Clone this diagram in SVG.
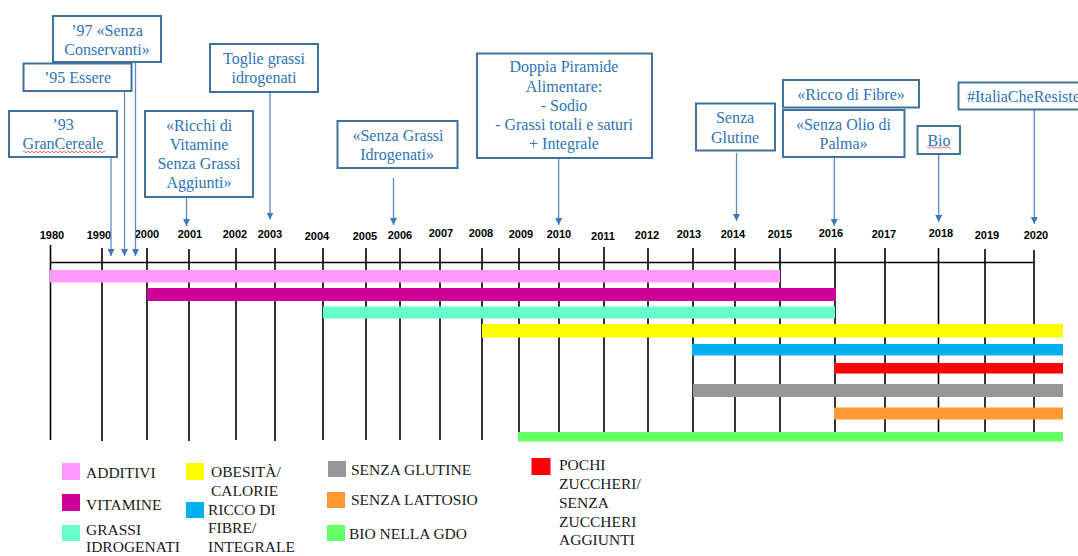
<svg xmlns="http://www.w3.org/2000/svg" width="1078" height="556" viewBox="0 0 1078 556">
<style>
.box{fill:#fff;stroke:#41719C;stroke-width:2}
.ct{font-family:"Liberation Serif",serif;font-size:16px;fill:#2E74B5;text-anchor:middle}
.yr{font-family:"Liberation Sans",sans-serif;font-size:11px;font-weight:bold;fill:#000;text-anchor:middle}
.grid{stroke:#000;stroke-width:1.6}
.conn{stroke:#5B8BC4;stroke-width:1.3;fill:none}
.lg{font-family:"Liberation Serif",serif;font-size:15.5px;fill:#1a1a1a}
.wavy{stroke:#E04848;stroke-width:0.8;fill:none}
</style>
<defs>
<marker id="ah" markerUnits="userSpaceOnUse" markerWidth="7" markerHeight="7" refX="7" refY="3.5" orient="auto">
<path d="M0,0 L7,3.5 L0,7 z" fill="#3F78B8"/>
</marker>
</defs>
<rect width="1078" height="556" fill="#fff"/>

<g id="timeline-grid">
<line class="grid" x1="50.5" y1="245" x2="50.5" y2="440"/>
<line class="grid" x1="102" y1="248" x2="102" y2="441"/>
<line class="grid" x1="147" y1="248" x2="147" y2="440"/>
<line class="grid" x1="189" y1="249" x2="189" y2="441"/>
<line class="grid" x1="236" y1="248" x2="236" y2="440"/>
<line class="grid" x1="275" y1="248" x2="275" y2="441"/>
<line class="grid" x1="323" y1="248" x2="323" y2="440"/>
<line class="grid" x1="366" y1="248" x2="366" y2="440"/>
<line class="grid" x1="400" y1="248" x2="400" y2="440"/>
<line class="grid" x1="440" y1="248" x2="440" y2="440"/>
<line class="grid" x1="482" y1="248" x2="482" y2="440"/>
<line class="grid" x1="519" y1="248" x2="519" y2="440"/>
<line class="grid" x1="559" y1="248" x2="559" y2="440"/>
<line class="grid" x1="604" y1="247" x2="604" y2="440"/>
<line class="grid" x1="648" y1="248" x2="648" y2="440"/>
<line class="grid" x1="693" y1="248" x2="693" y2="440"/>
<line class="grid" x1="735" y1="248" x2="735" y2="440"/>
<line class="grid" x1="780" y1="248" x2="780" y2="440"/>
<line class="grid" x1="835" y1="248" x2="835" y2="440"/>
<line class="grid" x1="885" y1="248" x2="885" y2="440"/>
<line class="grid" x1="938.5" y1="248" x2="938.5" y2="440"/>
<line class="grid" x1="985" y1="249" x2="985" y2="440"/>
<line class="grid" x1="1034" y1="250" x2="1034" y2="440"/>
<line class="grid" x1="50" y1="262.5" x2="1034.5" y2="262.5"/>
</g>

<g id="year-labels">
<text class="yr" x="52" y="238.5">1980</text>
<text class="yr" x="99" y="238.5">1990</text>
<text class="yr" x="147" y="238">2000</text>
<text class="yr" x="190" y="238">2001</text>
<text class="yr" x="235" y="238">2002</text>
<text class="yr" x="270" y="238">2003</text>
<text class="yr" x="317" y="239.5">2004</text>
<text class="yr" x="365" y="239.5">2005</text>
<text class="yr" x="400" y="238.5">2006</text>
<text class="yr" x="441" y="237">2007</text>
<text class="yr" x="481" y="237">2008</text>
<text class="yr" x="521" y="238">2009</text>
<text class="yr" x="559" y="238">2010</text>
<text class="yr" x="603" y="240">2011</text>
<text class="yr" x="647" y="239">2012</text>
<text class="yr" x="689" y="238">2013</text>
<text class="yr" x="733" y="238">2014</text>
<text class="yr" x="780" y="238">2015</text>
<text class="yr" x="831" y="237">2016</text>
<text class="yr" x="884" y="238">2017</text>
<text class="yr" x="941" y="237">2018</text>
<text class="yr" x="987" y="238.5">2019</text>
<text class="yr" x="1036" y="239">2020</text>
</g>

<g id="bars">
<rect id="bar-additivi" x="50" y="270" width="730" height="12.5" fill="#FF99FF"/>
<rect id="bar-vitamine" x="147" y="288" width="689" height="13" fill="#CC0099"/>
<rect id="bar-grassi" x="323" y="306.5" width="512" height="12" fill="#66FFCC"/>
<rect id="bar-obesita" x="482" y="324" width="581" height="13.5" fill="#FFFF00"/>
<rect id="bar-fibre" x="692" y="344" width="371" height="11.5" fill="#00B0F0"/>
<rect id="bar-zuccheri" x="834" y="363" width="229" height="10.5" fill="#FF0000"/>
<rect id="bar-glutine" x="693" y="384" width="370" height="13" fill="#969696"/>
<rect id="bar-lattosio" x="834" y="407.5" width="229" height="12" fill="#FF9933"/>
<rect id="bar-bio" x="518" y="432" width="545" height="9.5" fill="#66FF66"/>
</g>

<g id="connectors">
<line class="conn" x1="111" y1="157" x2="111" y2="256" marker-end="url(#ah)"/>
<line class="conn" x1="124.5" y1="91" x2="124.5" y2="256" marker-end="url(#ah)"/>
<line class="conn" x1="135.5" y1="62" x2="135.5" y2="256" marker-end="url(#ah)"/>
<line class="conn" x1="186.5" y1="197" x2="186.5" y2="226" marker-end="url(#ah)"/>
<line class="conn" x1="270" y1="92" x2="270" y2="219.5" marker-end="url(#ah)"/>
<line class="conn" x1="393.5" y1="178" x2="393.5" y2="225" marker-end="url(#ah)"/>
<line class="conn" x1="558.7" y1="158" x2="558.7" y2="225" marker-end="url(#ah)"/>
<line class="conn" x1="736.5" y1="153" x2="736.5" y2="221" marker-end="url(#ah)"/>
<line class="conn" x1="834.3" y1="157" x2="834.3" y2="226" marker-end="url(#ah)"/>
<line class="conn" x1="938.7" y1="154" x2="938.7" y2="222" marker-end="url(#ah)"/>
<line class="conn" x1="1034.3" y1="109" x2="1034.3" y2="224" marker-end="url(#ah)"/>
</g>

<g id="n-97">
<rect class="box" x="53" y="16" width="108" height="46"/>
<text class="ct" x="107" y="35.5">’97 «Senza</text>
<text class="ct" x="107" y="55">Conservanti»</text>
</g>
<g id="n-95">
<rect class="box" x="23.5" y="63.5" width="108" height="27.5"/>
<text class="ct" x="77.5" y="83">’95 Essere</text>
</g>
<g id="n-93">
<rect class="box" x="9" y="111" width="108" height="46"/>
<text class="ct" x="63" y="130">’93</text>
<text class="ct" x="63" y="149">GranCereale</text>
<path class="wavy" d="M23,152 q1,-1.5 2,0 t2,0 t2,0 t2,0 t2,0 t2,0 t2,0 t2,0 t2,0 t2,0 t2,0 t2,0 t2,0 t2,0 t2,0 t2,0 t2,0 t2,0 t2,0 t2,0 t2,0 t2,0 t2,0 t2,0 t2,0 t2,0 t2,0 t2,0 t2,0 t2,0 t2,0 t2,0 t2,0 t2,0 t2,0 t2,0 t2,0 t2,0 t2,0 t2,0 t2,0"/>
</g>
<g id="n-toglie">
<rect class="box" x="210" y="44" width="108" height="48"/>
<text class="ct" x="264" y="64">Toglie grassi</text>
<text class="ct" x="264" y="83">idrogenati</text>
</g>
<g id="n-ricchi">
<rect class="box" x="145" y="111" width="108" height="86"/>
<text class="ct" x="199" y="131">«Ricchi di</text>
<text class="ct" x="199" y="150">Vitamine</text>
<text class="ct" x="199" y="169">Senza Grassi</text>
<text class="ct" x="199" y="188">Aggiunti»</text>
</g>
<g id="n-senza-grassi">
<rect class="box" x="337.5" y="121" width="120" height="47"/>
<text class="ct" x="398" y="141">«Senza Grassi</text>
<text class="ct" x="397" y="160">Idrogenati»</text>
</g>
<g id="n-doppia">
<rect class="box" x="477" y="53.5" width="175" height="104.5"/>
<text class="ct" x="564" y="71.5">Doppia Piramide</text>
<text class="ct" x="564" y="91.5">Alimentare:</text>
<text class="ct" x="564" y="110.5">- Sodio</text>
<text class="ct" x="564" y="130">- Grassi totali e saturi</text>
<text class="ct" x="564" y="149">+ Integrale</text>
</g>
<g id="n-glutine">
<rect class="box" x="696" y="103.5" width="79" height="47"/>
<text class="ct" x="735" y="123">Senza</text>
<text class="ct" x="735" y="142.5">Glutine</text>
</g>
<g id="n-fibre">
<rect class="box" x="783" y="80" width="136" height="27.5"/>
<text class="ct" x="851" y="100">«Ricco di Fibre»</text>
</g>
<g id="n-olio">
<rect class="box" x="783" y="110" width="121.5" height="47"/>
<text class="ct" x="843.5" y="130">«Senza Olio di</text>
<text class="ct" x="843.5" y="149">Palma»</text>
</g>
<g id="n-bio">
<rect class="box" x="917.5" y="126" width="42.5" height="28"/>
<text class="ct" x="939" y="145.5">Bio</text>
<path class="wavy" d="M927,147.5 q1,-1.5 2,0 t2,0 t2,0 t2,0 t2,0 t2,0 t2,0 t2,0 t2,0 t2,0 t2,0 t2,0"/>
</g>
<g id="n-italia">
<rect class="box" x="958.5" y="82.5" width="140" height="27"/>
<text class="ct" x="967" y="101.5" style="text-anchor:start">#ItaliaCheResiste</text>
</g>

<g id="legend">
<rect x="62" y="463" width="18" height="17" fill="#FF99FF"/>
<text class="lg" x="86" y="477.5">ADDITIVI</text>
<rect x="62" y="494" width="18" height="17" fill="#CC0099"/>
<text class="lg" x="86" y="509.5">VITAMINE</text>
<rect x="62" y="525" width="18" height="16" fill="#66FFCC"/>
<text class="lg" x="86" y="535">GRASSI</text>
<text class="lg" x="86" y="552.4">IDROGENATI</text>
<rect x="186" y="463" width="18" height="17" fill="#FFFF00"/>
<text class="lg" x="211" y="476.5">OBESITÀ/</text>
<text class="lg" x="211" y="495.5">CALORIE</text>
<rect x="186" y="502" width="18" height="16" fill="#00B0F0"/>
<text class="lg" x="208" y="514.5">RICCO DI</text>
<text class="lg" x="208" y="533">FIBRE/</text>
<text class="lg" x="208" y="551.5">INTEGRALE</text>
<rect x="328" y="461" width="18" height="16" fill="#969696"/>
<text class="lg" x="351" y="474.5">SENZA GLUTINE</text>
<rect x="327" y="492" width="18" height="16" fill="#FF9933"/>
<text class="lg" x="351" y="504.5">SENZA LATTOSIO</text>
<rect x="327" y="525" width="18" height="16" fill="#66FF66"/>
<text class="lg" x="349" y="538.5">BIO NELLA GDO</text>
<rect x="531.5" y="458" width="19" height="17" fill="#FF0000"/>
<text class="lg" x="559" y="469.5">POCHI</text>
<text class="lg" x="559" y="489">ZUCCHERI/</text>
<text class="lg" x="559" y="508">SENZA</text>
<text class="lg" x="559" y="526.5">ZUCCHERI</text>
<text class="lg" x="559" y="545">AGGIUNTI</text>
</g>
</svg>
